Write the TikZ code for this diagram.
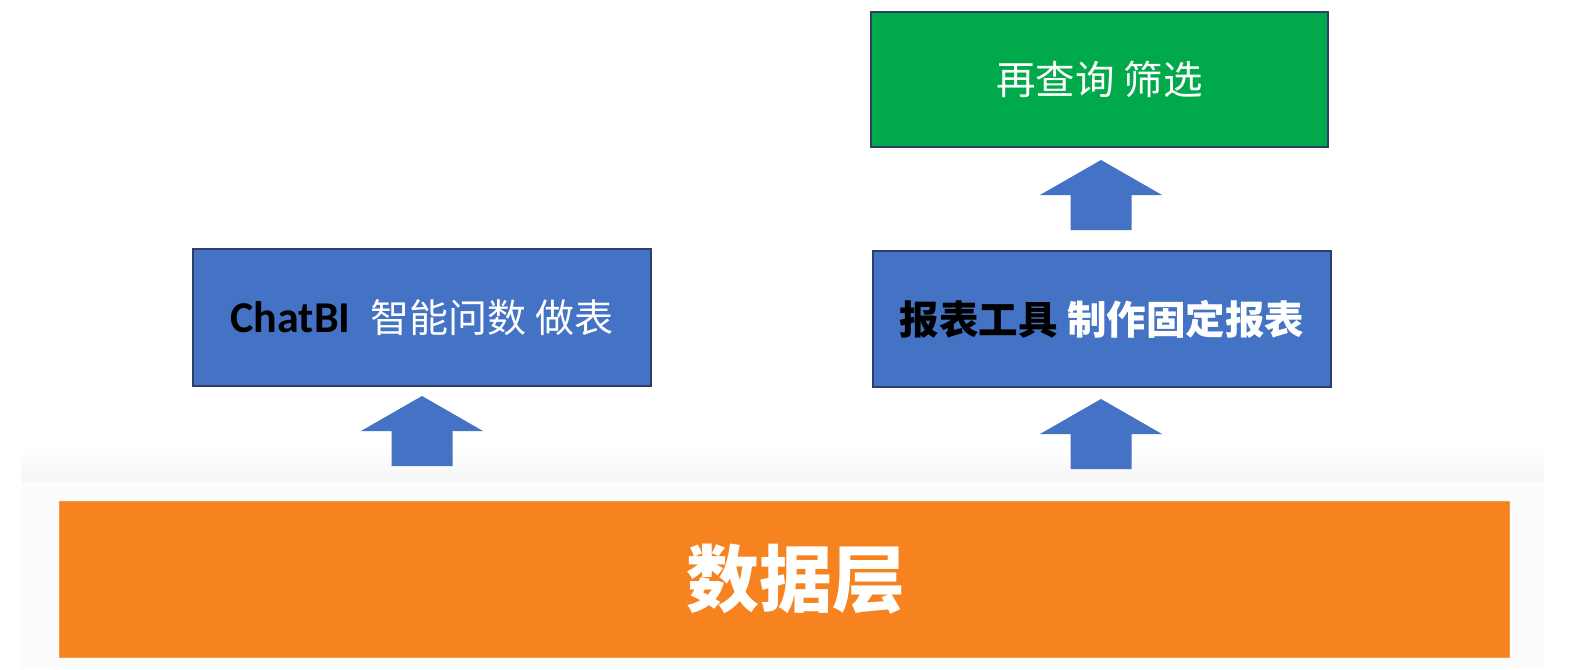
\documentclass[tikz,border=0pt]{standalone}
\usepackage{fontspec}
\newfontfamily\cjk{Noto Sans CJK SC}
\newfontfamily\lat{Carlito}
\definecolor{boxblue}{HTML}{4472C4}
\definecolor{edgeblue}{HTML}{2F3D68}
\definecolor{boxgreen}{HTML}{00A94A}
\definecolor{boxorange}{HTML}{F68320}
\definecolor{edgeorange}{HTML}{F89A45}
\definecolor{bandgray}{HTML}{F5F5F5}
\definecolor{bandlight}{HTML}{FCFCFC}
\begin{document}
\begin{tikzpicture}[x=1pt,y=-1pt,
  layerbox/.style={draw=edgeblue,line width=1.2pt,inner sep=0pt,anchor=center},
  pics/uparr/.style={code={\fill[boxblue] (0,0) -- (-61,35) -- (-30.5,35) -- (-30.5,70) -- (30.5,70) -- (30.5,35) -- (61,35) -- cycle;}}]
\useasboundingbox (0,0) rectangle (1570,669);
\fill[white] (0,0) rectangle (1570,669);
% gray band
\shade[top color=white,bottom color=bandgray] (21,450) rectangle (1544,482);
\fill[bandlight] (21,482) rectangle (1544,669);
% data layer
\node[draw=edgeorange,fill=boxorange,line width=1pt,minimum width=1450pt,minimum height=156pt,inner sep=0pt] (data) at (784,579)
  {\hspace{24pt}\cjk\bfseries\fontsize{73}{84}\selectfont\color{white}数据层};
% boxes
\node[layerbox,fill=boxblue,minimum width=458pt,minimum height=137pt] (chat) at (422,317.5)
  {\lat\bfseries\fontsize{44}{52}\selectfont ChatBI\hspace{20pt}\cjk\mdseries\fontsize{39}{46}\selectfont\color{white}智能问数 做表};
\node[layerbox,fill=boxblue,minimum width=458pt,minimum height=136pt] (report) at (1102,319)
  {\cjk\bfseries\fontsize{39.5}{46}\selectfont 报表工具 \color{white}制作固定报表};
\node[layerbox,fill=boxgreen,minimum width=457pt,minimum height=135pt] (query) at (1099.5,79.5)
  {\cjk\fontsize{39.5}{46}\selectfont\color{white}再查询 筛选};
% block arrows
\coordinate (a1) at (422,396);
\coordinate (a2) at (1101,399);
\coordinate (a3) at (1101,160);
\pic at (a1) {uparr};
\pic at (a2) {uparr};
\pic at (a3) {uparr};
\end{tikzpicture}
\end{document}
